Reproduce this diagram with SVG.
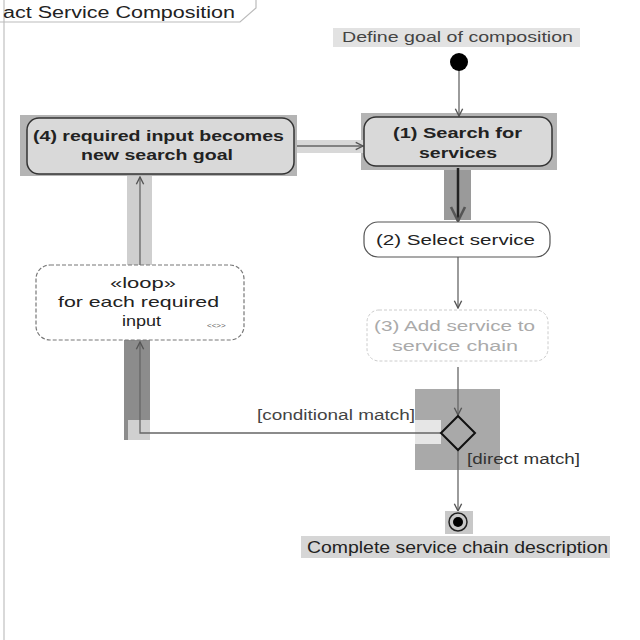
<svg xmlns="http://www.w3.org/2000/svg" width="640" height="640" viewBox="0 0 640 640">
<defs>
<marker id="open" viewBox="0 0 10 10" refX="9" refY="5" markerWidth="7" markerHeight="7" orient="auto-start-reverse"><path d="M1,1 L9,5 L1,9" fill="none" stroke="#555" stroke-width="1.5"/></marker>
</defs>
<style>
text{font-family:"Liberation Sans",Arial,sans-serif;font-size:15px;fill:#222;text-anchor:start}
.b{font-weight:bold}
.hl{fill:#b4b4b4}
.act{fill:#d9d9d9;stroke:#333;stroke-width:1.5}
.wact{fill:#fff;stroke:#555;stroke-width:1.2}
.con{fill:none;stroke:#666;stroke-width:1.3}
</style>
<rect width="640" height="640" fill="#fff"/>
<g id="frame">
<path d="M4,640 L4,0" stroke="#ccc" stroke-width="1.5" fill="none"/>
<path d="M0,22 L240,22 L256,8 L256,0" stroke="#bbb" stroke-width="1.2" fill="none"/>
<text x="3" y="18" textLength="232" lengthAdjust="spacingAndGlyphs" style="font-size:16px">act Service Composition</text>
</g>
<g id="highlights">
<rect class="hl" x="20" y="115" width="277" height="61"/>
<rect class="hl" x="361" y="113" width="196" height="57" fill="#a8a8a8"/>
<rect x="444" y="170" width="27" height="50" fill="#9a9a9a"/>
<rect x="127" y="176" width="25" height="89" fill="#cfcfcf"/>
<rect x="124" y="340" width="26" height="100" fill="#8c8c8c"/>
<rect x="128" y="420" width="22" height="20" fill="#d0d0d0"/>
<rect x="297" y="140" width="67" height="13" fill="#d8d8d8"/>
<rect x="415" y="389" width="85" height="81" fill="#a9a9a9"/>
<rect x="415" y="420" width="26" height="24" fill="#e6e6e6"/>
</g>
<g id="connectors">
<line class="con" x1="459" y1="70" x2="459" y2="116" marker-end="url(#open)"/>
<line class="con" x1="297" y1="146" x2="363" y2="146" marker-end="url(#open)"/>
<line x1="458" y1="168" x2="458" y2="221" stroke="#222" stroke-width="2.5" marker-end="url(#open)"/>
<line class="con" x1="458" y1="257" x2="458" y2="308" marker-end="url(#open)"/>
<line class="con" x1="458" y1="367" x2="458" y2="415" marker-end="url(#open)"/>
<polyline class="con" points="441,433 140,433 140,342" stroke="#333" marker-end="url(#open)"/>
<line class="con" x1="140" y1="265" x2="140" y2="177" marker-end="url(#open)"/>
<line class="con" x1="458" y1="450" x2="458" y2="511" marker-end="url(#open)"/>
<text x="257" y="420" textLength="158" lengthAdjust="spacingAndGlyphs" style="font-size:14px;fill:#444">[conditional match]</text>
<text x="467" y="464" textLength="113" lengthAdjust="spacingAndGlyphs" style="font-size:14px;fill:#333">[direct match]</text>
</g>
<g id="define">
<rect x="333" y="28" width="247" height="19" fill="#e2e2e2"/>
<text x="342" y="42" textLength="231" lengthAdjust="spacingAndGlyphs" style="fill:#444">Define goal of composition</text>
</g>
<g id="initial"><circle cx="459" cy="62" r="9" fill="#000"/></g>
<g id="search">
<rect class="act" x="364" y="117" width="188" height="49" rx="12"/>
<text class="b" x="393" y="138" textLength="129" lengthAdjust="spacingAndGlyphs">(1) Search for</text>
<text class="b" x="419" y="158" textLength="78" lengthAdjust="spacingAndGlyphs">services</text>
</g>
<g id="required">
<rect class="act" x="27" y="118" width="267" height="56" rx="12"/>
<text class="b" x="33" y="141" textLength="251" lengthAdjust="spacingAndGlyphs">(4) required input becomes</text>
<text class="b" x="81" y="160" textLength="152" lengthAdjust="spacingAndGlyphs">new search goal</text>
</g>
<g id="select">
<rect class="wact" x="364" y="222" width="186" height="35" rx="14"/>
<text x="376" y="245" textLength="159" lengthAdjust="spacingAndGlyphs">(2) Select service</text>
</g>
<g id="add">
<rect x="367" y="310" width="181" height="51" rx="12" fill="#fff" stroke="#ccc" stroke-width="1" stroke-dasharray="3,2"/>
<text x="374" y="331" textLength="161" lengthAdjust="spacingAndGlyphs" style="fill:#aaa">(3) Add service to</text>
<text x="392" y="351" textLength="126" lengthAdjust="spacingAndGlyphs" style="fill:#aaa">service chain</text>
</g>
<g id="loop">
<rect x="36" y="265" width="208" height="75" rx="14" fill="#fff" stroke="#777" stroke-width="1.2" stroke-dasharray="4,2"/>
<text x="110" y="288" textLength="66" lengthAdjust="spacingAndGlyphs">«loop»</text>
<text x="58" y="307" textLength="161" lengthAdjust="spacingAndGlyphs">for each required</text>
<text x="122" y="326" textLength="39" lengthAdjust="spacingAndGlyphs">input</text>
<text x="207" y="328" style="font-size:8px;fill:#666">&lt;&lt;&gt;&gt;</text>
</g>
<g id="decision"><polygon points="458,416 475,433 458,450 441,433" fill="#a9a9a9" stroke="#111" stroke-width="2"/></g>
<g id="final">
<rect x="445" y="511" width="28" height="23" fill="#c8c8c8"/>
<circle cx="458" cy="522" r="9" fill="none" stroke="#222" stroke-width="1.5"/>
<circle cx="458" cy="522" r="5" fill="#000"/>
</g>
<g id="complete">
<rect x="301" y="536" width="309" height="22" fill="#d6d6d6"/>
<text x="307" y="553" textLength="301" lengthAdjust="spacingAndGlyphs" style="font-size:16px">Complete service chain description</text>
</g>
</svg>
